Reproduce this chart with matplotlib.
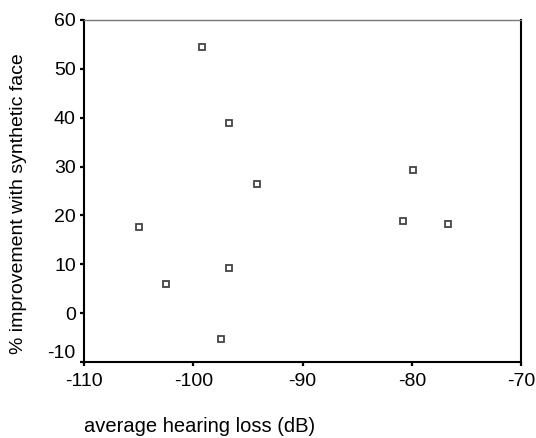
import matplotlib
matplotlib.use("Agg")
import matplotlib.pyplot as plt

# average hearing loss (dB) vs % improvement with synthetic face
hearing_loss = [-99.2, -96.7, -94.2, -105.0, -96.7, -102.5, -97.5, -79.9, -80.8, -76.7]
improvement = [54.5, 39.0, 26.4, 17.7, 9.3, 5.9, -5.3, 29.3, 18.9, 18.3]

x_ticks = [-110, -100, -90, -80, -70]
y_ticks = [-10, 0, 10, 20, 30, 40, 50, 60]

plt.rcParams['font.family'] = ['Liberation Sans', 'DejaVu Sans']
plt.rcParams['axes.unicode_minus'] = False

fig = plt.figure(figsize=(5.36, 4.38), dpi=100)
ax = fig.add_axes([0.157, 0.1735, 0.815, 0.781])

ax.plot(hearing_loss, improvement, linestyle='none', marker='s', markersize=4.4,
        markerfacecolor='white', markeredgecolor='#444444', markeredgewidth=1.3)

ax.set_xlim(-110, -70)
ax.set_ylim(-10, 60)
ax.set_xticks(x_ticks)
ax.set_yticks(y_ticks)
ax.tick_params(axis='both', direction='out', length=3, width=1.6, labelsize=14,
               color='black')
ax.tick_params(axis='x', pad=5)
ax.tick_params(axis='y', pad=3)

# keep the bottom y label clear of the first x label
lbls = ax.get_yticklabels()
lbls[0].set_verticalalignment('bottom')

for side in ['left', 'bottom', 'right']:
    ax.spines[side].set_linewidth(1.5)
    ax.spines[side].set_color('black')
ax.spines['top'].set_linewidth(1.0)
ax.spines['top'].set_color('#777777')

fig.text(84 / 536, 1 - 427 / 438, 'average hearing loss (dB)', fontsize=14.5,
         ha='left', va='center')
fig.text(19 / 536, 1 - 204 / 438, '% improvement with synthetic face', fontsize=14,
         ha='center', va='center', rotation=90)

fig.savefig('out.png', dpi=100)
